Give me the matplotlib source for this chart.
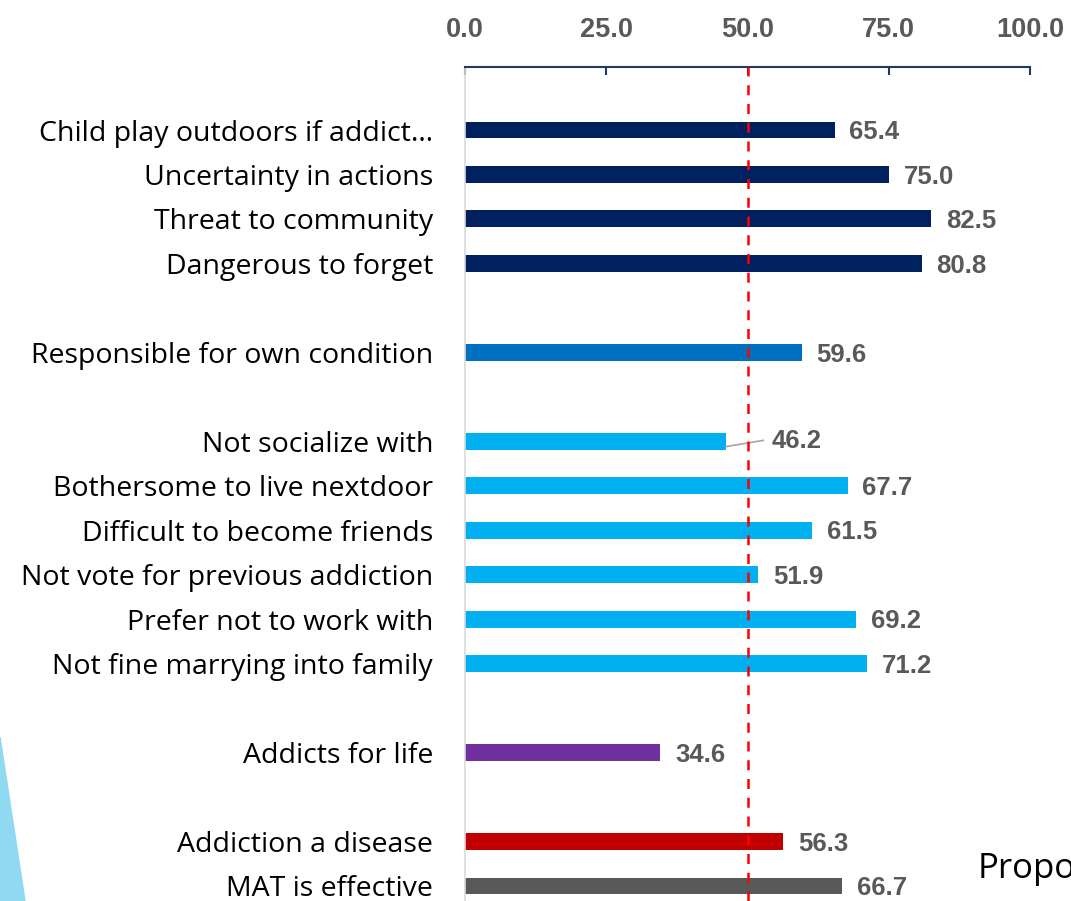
import matplotlib
matplotlib.use("Agg")
import matplotlib.pyplot as plt
from matplotlib.patches import Polygon

# Survey items (top to bottom), with empty strings as group separators
categories = [
    "Child play outdoors if addict…",
    "Uncertainty in actions",
    "Threat to community",
    "Dangerous to forget",
    "",
    "Responsible for own condition",
    "",
    "Not socialize with",
    "Bothersome to live nextdoor",
    "Difficult to become friends",
    "Not vote for previous addiction",
    "Prefer not to work with",
    "Not fine marrying into family",
    "",
    "Addicts for life",
    "",
    "Addiction a disease",
    "MAT is effective",
]
values = [65.4, 75.0, 82.5, 80.8, None, 59.6, None,
          46.2, 67.7, 61.5, 51.9, 69.2, 71.2, None, 34.6, None, 56.3, 66.7]
colors = ["#002060", "#002060", "#002060", "#002060", None, "#0070C0", None,
          "#00B0F0", "#00B0F0", "#00B0F0", "#00B0F0", "#00B0F0", "#00B0F0", None,
          "#7030A0", None, "#C00000", "#595959"]
xticks = [0, 25, 50, 75, 100]

W, H = 1071, 901
fig = plt.figure(figsize=(W / 100, H / 100), dpi=100)

# axes: x from px 465 to 1030, top at px 67, bottom at figure edge
left, right, top = 465, 1030, 67
ax = fig.add_axes([left / W, 0, (right - left) / W, (H - top) / H])

row_top, pitch = 130, 44.47
y_top = -(row_top - top) / pitch
y_bot = (H - row_top) / pitch
ax.set_ylim(y_bot, y_top)
ax.set_xlim(0, 100)

val_kw = dict(va="center", ha="left", fontsize=18.5, fontweight="bold",
              color="#595959", family="Liberation Sans")

for i, (v, c) in enumerate(zip(values, colors)):
    if v is None:
        continue
    ax.barh(i, v, height=0.38, color=c, zorder=2)
    if categories[i] == "Not socialize with":
        ax.plot([v, v + 6.6], [i + 0.12, i - 0.02], color="#A6A6A6", lw=1.2,
                zorder=3, clip_on=False)
        ax.text(v + 8.0, i, f"{v:.1f}", **val_kw)
    else:
        ax.text(v + 2.6, i + 0.05, f"{v:.1f}", **val_kw)

ax.set_yticks([i for i, c in enumerate(categories) if c])
ax.set_yticklabels([c for c in categories if c], fontsize=20.5,
                   family="Open Sans", color="#000000")
ax.tick_params(axis="y", length=0, pad=23)

ax.xaxis.tick_top()
ax.set_xticks(xticks)
ax.set_xticklabels([f"{t:.1f}" for t in xticks], fontsize=19.5,
                   fontweight="bold", color="#595959", family="Liberation Sans")
ax.tick_params(axis="x", direction="in", length=6, width=1.5,
               color="#1F3864", pad=17)

for s in ["right", "bottom"]:
    ax.spines[s].set_visible(False)
ax.spines["top"].set_color("#1F3864")
ax.spines["top"].set_linewidth(1.5)
ax.spines["left"].set_color("#D9D9D9")
ax.spines["left"].set_linewidth(1.2)

# reference line at 50
ax.axvline(50, color="#FF0000", lw=1.8, ls=(0, (4, 3.5)), zorder=4)

# decorative wedge and cut-off caption
wedge = Polygon([[0, 1 - 737 / H], [25 / W, 0], [0, 0]], closed=True,
                transform=fig.transFigure, color="#8FD9F1", zorder=0)
fig.patches.append(wedge)
fig.text(978 / W, 1 - 878 / H, "Propo", fontsize=25, color="#000000",
         family="Open Sans", va="baseline", ha="left")

fig.savefig("out.png", dpi=100)
